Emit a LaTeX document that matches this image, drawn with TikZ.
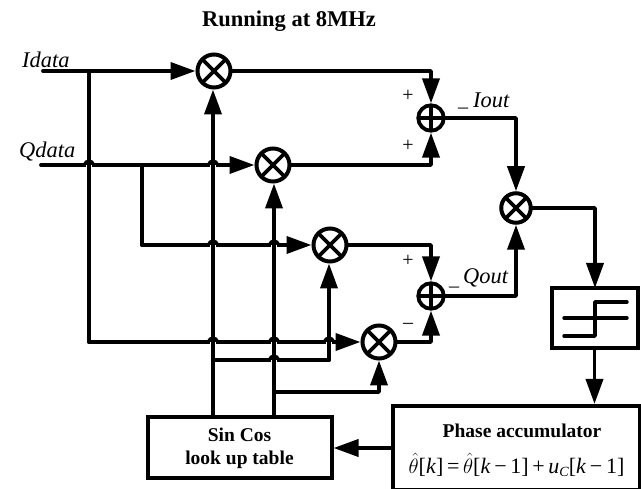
\documentclass[tikz,border=0pt]{standalone}
\usepackage{fontspec}
\setmainfont{Liberation Serif}
\usetikzlibrary{arrows.meta,calc}
\tikzset{
  wire/.style={line width=3.8pt,line join=round,line cap=round},
  arr/.style={wire,-{Triangle[length=25pt,width=17pt]}},
  blockbox/.style={draw,line width=4pt,minimum width=#1,inner sep=0pt,align=center},
  mult/.style={circle,draw,line width=4pt,minimum size=#1,inner sep=0pt,
    path picture={\draw[line width=3.6pt] (path picture bounding box.south west)--(path picture bounding box.north east)
      (path picture bounding box.north west)--(path picture bounding box.south east);}},
  adder/.style={circle,draw,line width=3.8pt,minimum size=25.5pt,inner sep=0pt,
    path picture={\draw[line width=3.2pt] (path picture bounding box.south)--(path picture bounding box.north)
      (path picture bounding box.west)--(path picture bounding box.east);}},
  title/.style={font=\bfseries\fontsize{19.5}{22}\selectfont,align=center,inner sep=0pt},
  sig/.style={font=\itshape\fontsize{22.4}{26}\selectfont,inner sep=0pt},
  sgn/.style={font=\fontsize{20}{22}\selectfont,inner sep=0pt},
}
\newcommand{\hop}[1]{%
  \fill[white] ($(#1)+(-3.2,0.3)$) rectangle ($(#1)+(3.2,2.3)$);
  \draw[line width=3.8pt] ($(#1)+(0,-5)$) -- ($(#1)+(0,5)$);
  \draw[line width=3pt,line cap=round] ($(#1)+(-5,0)$) .. controls ($(#1)+(-3,-5.5)$) and ($(#1)+(3,-5.5)$) .. ($(#1)+(5,0)$);}
\begin{document}
\begin{tikzpicture}[x=1pt,y=-1pt]
\useasboundingbox[fill=white] (0,0) rectangle (641,489);
\clip (0,0) rectangle (641,489);
% nodes
\node[mult=33pt] (m1) at (214,71) {};
\node[mult=33pt] (m2) at (273,165) {};
\node[mult=33pt] (m3) at (330,245) {};
\node[mult=33pt] (m4) at (379,342) {};
\node[mult=29.5pt] (m5) at (516,208) {};
\node[adder] (a1) at (431,118) {};
\node[adder] (a2) at (431,296) {};
\node[blockbox=184pt,minimum height=61pt] (lut) at (239.5,448) {};
\node[blockbox=247pt,minimum height=84pt] (pa) at (516.5,448) {};
\node[blockbox=86pt,minimum height=60pt] (lim) at (594.5,318.5) {};
% free ends and junctions
\coordinate (iin) at (43,71);
\coordinate (qin) at (41,165);
\coordinate (ij) at (89,71);
\coordinate (ic) at (89,342);
\coordinate (qj) at (142,165);
\coordinate (qc) at (142,245);
\coordinate (sa) at (213,417);
\coordinate (sb) at (274,417);
\coordinate (sj) at (213,360);
\coordinate (sc) at (329,360);
\coordinate (cj) at (274,392);
\coordinate (limt) at (595,288);
% inputs
\draw[arr] (iin) -- (m1);
\draw[wire] (ij) -- (ic);
\draw[arr] (ic) -- (m4);
\draw[arr] (qin) -- (m2);
\draw[wire] (qj) -- (qc);
\draw[arr] (qc) -- (m3);
% carriers
\draw[arr] (sa) -- (m1.south -| sa);
\draw[arr] (sb) -- (m2.south -| sb);
\draw[wire] (sj) -- (sc);
\draw[arr] (sc) -- (m3.south -| sc);
\draw[arr] (cj) -| (m4.south);
% adders
\draw[arr] (m1) -| (a1);
\draw[arr] (m2) -| (a1);
\draw[arr] (m3) -| (a2);
\draw[arr] (m4) -| (a2);
\draw[arr] (a1) -| (m5);
\draw[arr] (a2) -| (m5);
\draw[arr] (m5) -| (limt);
\draw[arr] (lim.south) -- (pa.north -| lim.south);
\draw[arr] (pa.west) -- (lut.east);
% hops
\hop{89,165}\hop{213,165}
\hop{213,245}\hop{274,245}
\hop{213,342}\hop{274,342}\hop{329,342}
\hop{274,360}
% limiter symbol
\draw[line width=3.4pt,line cap=round,line join=round] (564,336) -- (595,336) -- (595,302) -- (627,302);
\draw[line width=3.4pt,line cap=round] (564,318) -- (627,318);
% text
\node[title,font=\bfseries\fontsize{22.5}{24}\selectfont] at (289,21) {Running at 8MHz};
\node[sig,anchor=west] at (22,60) {Idata};
\node[sig,anchor=west] at (19,152) {Qdata};
\node[sig,anchor=west] at (473,100) {Iout};
\node[sig,anchor=west] at (463,278) {Qout};
\node[sgn] at (463,108) {\_};
\node[sgn] at (454,287) {\_};
\node[sgn] at (408,96) {+};
\node[sgn] at (408,146) {+};
\node[sgn] at (408,261) {+};
\node[sgn] at (408,326) {–};
\node[title] at (239.5,448) {Sin Cos\\[1pt]look up table};
\node[title] at (522,431) {Phase accumulator};
\node[inner sep=0pt,font=\fontsize{22}{24}\selectfont] at (516.5,465) {$\hat{\theta}$[\textit{k}]\,=\,$\hat{\theta}$[\textit{k}\,−\,1]\,+\,\textit{u}\raisebox{-3pt}{\fontsize{14}{15}\selectfont\textit{C}}[\textit{k}\,−\,1]};
\end{tikzpicture}
\end{document}
